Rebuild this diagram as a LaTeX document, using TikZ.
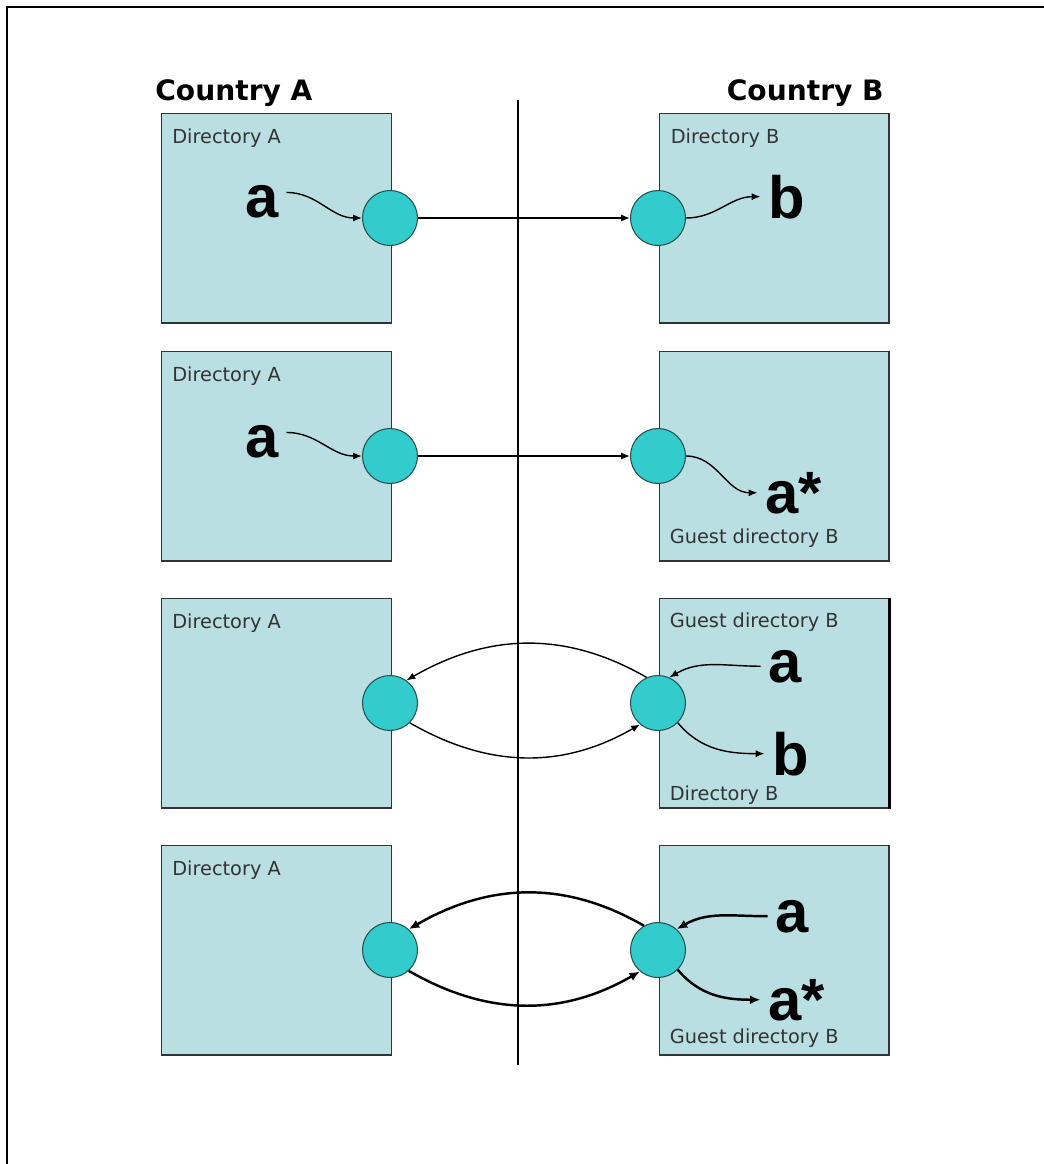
\documentclass[tikz,border=0pt]{standalone}
\usepackage{fontspec}
\setmainfont{DejaVu Sans}
\newfontfamily\letterfont{Liberation Sans}
\usetikzlibrary{arrows.meta}

\definecolor{dirfill}{HTML}{B9DFE3}
\definecolor{gatefill}{HTML}{33CCCC}
\definecolor{edgegray}{HTML}{333333}
\definecolor{gateedge}{HTML}{24504F}

\begin{document}
\begin{tikzpicture}[x=0.02cm,y=0.02cm]
   \tikzstyle{dirbox}=[draw=edgegray, fill=dirfill, line width=0.6pt, minimum width=4.6cm, minimum height=4.2cm, inner sep=0pt]
   \tikzstyle{gate}=[draw=gateedge, fill=gatefill, circle, line width=0.6pt, minimum size=1.1cm, inner sep=0pt]
   \tikzstyle{dirname}=[text=edgegray, font=\fontsize{11}{13}\selectfont, inner sep=0pt]
   \tikzstyle{country}=[font=\bfseries\fontsize{16}{19}\selectfont, inner sep=0pt]
   \tikzstyle{item}=[font=\letterfont\bfseries\fontsize{34}{40}\selectfont, inner xsep=0.15cm, inner ysep=0pt, anchor=base west]
   \tikzstyle{flow}=[-{Latex[length=5pt,width=4pt]}, line width=0.8pt]
   \tikzstyle{thickflow}=[-{Latex[length=6pt,width=5pt]}, line width=1.4pt]

\useasboundingbox (0,0) rectangle (1044,-1164);
\draw[line width=0.04cm] (7,-1164) -- (7,-7) -- (1044,-7);

% headers and border line
\node[country, anchor=base west] (countryA) at (155,-100) {Country A};
\node[country, anchor=base east] (countryB) at (884,-100) {Country B};
\coordinate (borderTop) at (518,-100);
\coordinate (borderBot) at (518,-1065);
\draw[line width=0.6pt] (borderTop) -- (borderBot);

% directories
\node[dirbox] (dirA1) at (276.5,-218) {};
\node[dirbox] (dirB1) at (774,-218) {};
\node[dirbox] (dirA2) at (276.5,-456) {};
\node[dirbox] (dirB2) at (774,-456) {};
\node[dirbox] (dirA3) at (276.5,-703) {};
\node[dirbox] (dirB3) at (774,-703) {};
\node[dirbox] (dirA4) at (276.5,-950) {};
\node[dirbox] (dirB4) at (774,-950) {};
\draw[line width=1.3pt] (dirB3.north east) -- (dirB3.south east);

\node[dirname, anchor=north west] (labA1) at ([shift={(11,-16)}]dirA1.north west) {Directory A};
\node[dirname, anchor=north west] (labB1) at ([shift={(12,-16)}]dirB1.north west) {Directory B};
\node[dirname, anchor=north west] (labA2) at ([shift={(11,-16)}]dirA2.north west) {Directory A};
\node[dirname, anchor=south west] (labB2) at ([shift={(11,14)}]dirB2.south west) {Guest directory B};
\node[dirname, anchor=north west] (labA3) at ([shift={(11,-16)}]dirA3.north west) {Directory A};
\node[dirname, anchor=north west] (labB3) at ([shift={(11,-15)}]dirB3.north west) {Guest directory B};
\node[dirname, anchor=south west] (labB3b) at ([shift={(11,4)}]dirB3.south west) {Directory B};
\node[dirname, anchor=north west] (labA4) at ([shift={(11,-16)}]dirA4.north west) {Directory A};
\node[dirname, anchor=south west] (labB4) at ([shift={(11,8)}]dirB4.south west) {Guest directory B};

% gateways
\node[gate] (gateA1) at (390,-218) {};
\node[gate] (gateB1) at (658,-218) {};
\node[gate] (gateA2) at (390,-456) {};
\node[gate] (gateB2) at (658,-456) {};
\node[gate] (gateA3) at (390,-703) {};
\node[gate] (gateB3) at (658,-703) {};
\node[gate] (gateA4) at (390,-950) {};
\node[gate] (gateB4) at (658,-950) {};

% items
\node[item] (itemA1) at (237.5,-217) {a};
\node[item] (itemB1) at (760.5,-218) {b};
\node[item] (itemA2) at (237.5,-457) {a};
\node[item] (itemB2) at (757.5,-513) {a*};
\node[item] (itemB3a) at (760.5,-682) {a};
\node[item] (itemB3b) at (764.5,-775) {b};
\node[item] (itemB4a) at (767.5,-932) {a};
\node[item] (itemB4b) at (760.5,-1020) {a*};

% row 1
\draw[flow] ([yshift=5]itemA1.east) to[out=0,in=180] (gateA1.west);
\draw[flow] (gateA1.east) -- (gateB1.west);
\draw[flow] (gateB1.east) to[out=0,in=180] (itemB1.west);

% row 2
\draw[flow] ([yshift=5]itemA2.east) to[out=0,in=180] (gateA2.west);
\draw[flow] (gateA2.east) -- (gateB2.west);
\draw[flow] (gateB2.east) to[out=0,in=180] (itemB2.west);

% row 3
\draw[flow] (gateB3.114) to[out=150,in=30] (gateA3.54);
\draw[flow] (gateA3.-45) to[out=-30,in=-150] (gateB3.-130);
\draw[flow] (itemB3a.west) to[out=180,in=30] (gateB3.66);
\draw[flow] (gateB3.-45) to[out=-50,in=180] (itemB3b.west);

% row 4
\draw[thickflow] (gateB4.120) to[out=150,in=30] (gateA4.48);
\draw[thickflow] (gateA4.-48) to[out=-30,in=-150] (gateB4.-130);
\draw[thickflow] (itemB4a.west) to[out=180,in=30] (gateB4.48);
\draw[thickflow] (gateB4.-45) to[out=-50,in=180] (itemB4b.west);

\end{tikzpicture}
\end{document}
